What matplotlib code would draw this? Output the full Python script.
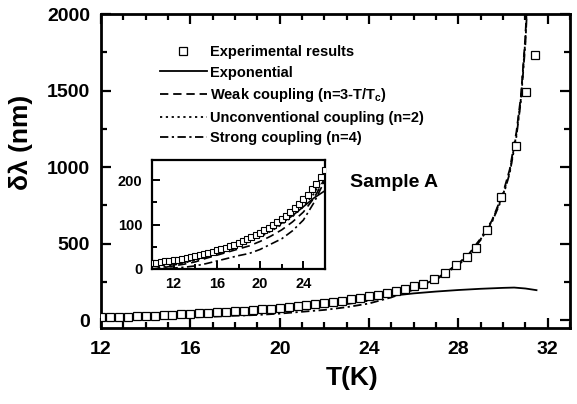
import numpy as np
import matplotlib
matplotlib.use("Agg")
import matplotlib.pyplot as plt
from matplotlib.ticker import MultipleLocator

plt.rcParams['font.family'] = ['Liberation Sans', 'DejaVu Sans']
plt.rcParams['font.weight'] = 'bold'
plt.rcParams['mathtext.fontset'] = 'custom'
plt.rcParams['mathtext.rm'] = 'Liberation Sans:bold'
plt.rcParams['mathtext.it'] = 'Liberation Sans:bold'
plt.rcParams['lines.scale_dashes'] = False

# experimental penetration depth shift (nm) vs temperature (K)
T_exp = [10.0, 10.4, 10.8, 11.2, 11.6, 12.0, 12.4, 12.8, 13.2, 13.6, 14.0, 14.4,
         14.8, 15.2, 15.6, 16.0, 16.4, 16.8, 17.2, 17.6, 18.0, 18.4, 18.8, 19.2,
         19.6, 20.0, 20.4, 20.8, 21.2, 21.6, 22.0, 22.4, 22.8, 23.2, 23.6, 24.0,
         24.4, 24.8, 25.2, 25.6, 26.0, 26.4, 26.9, 27.4, 27.9, 28.4, 28.8, 29.3,
         29.9, 30.6, 31.05, 31.45]
dl_exp = [13, 14, 15, 17, 18, 20, 21, 23, 25, 27, 29, 31,
          33, 36, 39, 42, 45, 48, 52, 55, 59, 63, 67, 71,
          76, 81, 87, 93, 99, 106, 113, 120, 128, 137, 146, 157,
          167, 179, 192, 206, 222, 240, 272, 312, 362, 415, 470, 590,
          805, 1135, 1490, 1730]

# exponential fit
T_expo = [10, 11, 12, 13, 14, 15, 16, 17, 18, 19, 20, 21, 22, 23, 24, 25, 26,
          27, 28, 29, 30, 30.5, 31, 31.5]
dl_expo = [13, 17, 21, 25, 30, 35, 42, 49, 57, 66, 77, 89, 103, 120, 140, 160,
           176, 188, 198, 206, 212, 214, 208, 197]

# two-fluid type models
T_mod = [10, 11, 12, 13, 14, 15, 16, 17, 18, 19, 20, 21, 22, 23, 24, 25, 26,
         27, 28, 28.5, 29, 29.5, 30, 30.3, 30.6, 30.8, 31.0, 31.1]
dl_weak = [0, 3, 7, 11, 16, 24, 31, 38, 45, 52, 62, 74, 88, 106, 128, 160, 205,
           270, 370, 438, 535, 650, 830, 985, 1230, 1460, 1850, 2150]
dl_unconv = [0, 4, 9, 14, 20, 27, 35, 43, 52, 61, 72, 85, 100, 118, 140, 170, 212,
             275, 368, 435, 530, 645, 820, 970, 1215, 1445, 1830, 2120]
dl_strong = [0, 1, 2, 4, 7, 12, 18, 24, 30, 35, 44, 56, 68, 86, 110, 150, 200,
             265, 360, 430, 525, 640, 810, 960, 1200, 1430, 1800, 2100]

dash_weak = (6, 3.5)
dash_unconv = (1.6, 2.6)
dash_strong = (6, 2.5, 1.6, 2.5)

fig = plt.figure(figsize=(5.77, 4.04), dpi=100)
ax = fig.add_axes([101/577, 1-328/404, (570-101)/577, (328-14)/404])

ax.plot(T_exp, dl_exp, ls='none', marker='s', ms=6, mfc='white', mec='black',
        mew=0.9, label='Experimental results', zorder=3)
ax.plot(T_expo, dl_expo, color='black', lw=1.3, label='Exponential')
ax.plot(T_mod, dl_weak, color='black', lw=1.3, dashes=dash_weak,
        label=r'Weak coupling (n=3-T/T$_{\rm c}$)')
ax.plot(T_mod, dl_unconv, color='black', lw=1.3, dashes=dash_unconv,
        label='Unconventional coupling (n=2)')
ax.plot(T_mod, dl_strong, color='black', lw=1.3, dashes=dash_strong,
        label='Strong coupling (n=4)')

ax.set_xlim(12, 33)
ax.set_ylim(-50, 2000)
ax.xaxis.set_major_locator(MultipleLocator(4))
ax.xaxis.set_minor_locator(MultipleLocator(1))
ax.yaxis.set_major_locator(MultipleLocator(500))
ax.yaxis.set_minor_locator(MultipleLocator(250))
ax.tick_params(which='both', direction='in', top=True, right=True, width=1.6,
               labelsize=14)
ax.tick_params(axis='x', pad=9)
ax.tick_params(axis='y', pad=8)
ax.tick_params(which='major', length=7)
ax.tick_params(which='minor', length=4)
for s in ax.spines.values():
    s.set_linewidth(2)
ax.set_xlabel('T(K)', fontsize=19, fontweight='bold')
ax.xaxis.set_label_coords(0.535, -0.12)
ax.set_ylabel('δλ (nm)', fontsize=19, fontweight='bold')
ax.yaxis.set_label_coords(-0.145, 0.59)

ax.text(25.1, 900, 'Sample A', fontsize=14, fontweight='bold', ha='center', va='center')

ax.legend(loc='upper left', bbox_to_anchor=(160/577, 1-45/404),
          bbox_transform=fig.transFigure, frameon=False, fontsize=10.5,
          handlelength=3.2, handletextpad=0.2, labelspacing=0.45,
          borderpad=0, borderaxespad=0, markerscale=0.85)

# inset: low temperature region
ins = fig.add_axes([152/577, 1-269/404, (325-152)/577, (269-160)/404])
ins.plot(T_exp, dl_exp, ls='none', marker='s', ms=4.5, mfc='white', mec='black',
         mew=0.8, zorder=3)
ins.plot(T_expo, dl_expo, color='black', lw=1.2)
ins.plot(T_mod, dl_weak, color='black', lw=1.2, dashes=dash_weak)
ins.plot(T_mod, dl_unconv, color='black', lw=1.2, dashes=dash_unconv)
ins.plot(T_mod, dl_strong, color='black', lw=1.2, dashes=dash_strong)
ins.set_xlim(10, 26)
ins.set_ylim(0, 245)
ins.xaxis.set_minor_locator(MultipleLocator(2))
ins.yaxis.set_major_locator(MultipleLocator(100))
ins.yaxis.set_minor_locator(MultipleLocator(50))
ins.set_xticks([12, 16, 20, 24])
ins.tick_params(which='both', direction='in', width=1.4, labelsize=10.5)
ins.tick_params(axis='x', pad=6)
ins.tick_params(axis='y', pad=7)
ins.tick_params(which='major', length=6)
ins.tick_params(which='minor', length=3.5)
for s in ins.spines.values():
    s.set_linewidth(1.6)

fig.savefig('out.png', dpi=100)
